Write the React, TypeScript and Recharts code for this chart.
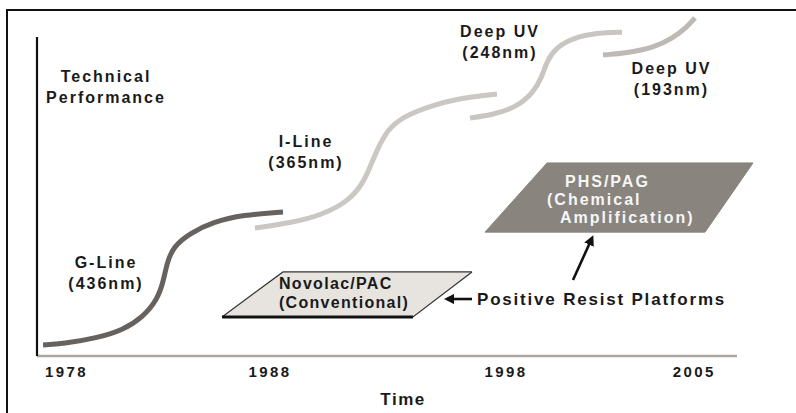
import { ComposedChart, Line, Area, XAxis, YAxis, ReferenceLine, ReferenceDot } from "recharts";

// x runs 0..110 "time units" across the plot, y 0..100 "performance units"
const tickPos = [4.2, 33.3, 67, 93.9];
const tickYears = ["1978", "1988", "1998", "2005"];

const gLineX = [0.86, 3.71, 8.57, 12.29, 15.14, 17.14, 18.0, 18.57, 19.43, 21.86, 25.14, 29.43, 35.14];
const gLineY = [3.2, 3.5, 5.2, 7.5, 11.3, 16.2, 21.1, 26.9, 31.5, 35.5, 38.7, 40.8, 41.6];

const iLineX = [31.14, 36.14, 40.86, 44.71, 46.57, 47.57, 48.57, 50.0, 52.29, 55.71, 60.43, 65.71];
const iLineY = [37.0, 38.4, 40.8, 45.1, 50.0, 54.6, 59.5, 65.3, 69.1, 72.0, 74.6, 75.7];

const duv248X = [61.86, 65.14, 68.57, 70.86, 72.14, 72.86, 74.29, 76.57, 80.0, 83.57];
const duv248Y = [68.8, 69.7, 72.0, 76.0, 80.6, 85.5, 89.3, 91.9, 93.4, 93.6];

const duv193X = [80.86, 84.29, 88.0, 90.86, 92.86, 94.0];
const duv193Y = [87.0, 87.6, 89.0, 91.9, 95.1, 97.7];

// platform boxes: corners bottom-left, top-left, bottom-right, top-right
const novolacX = [26.43, 35.14, 53.71, 62.14];
const novolacLow = [11.3, 11.3, 11.3, 24.3];
const novolacHigh = [11.3, 24.3, 24.3, 24.3];

const phsX = [64.0, 72.86, 95.43, 102.29];
const phsLow = [35.8, 35.8, 35.8, 55.8];
const phsHigh = [35.8, 55.8, 55.8, 55.8];

const noteLines = [
  ["Technical", "Performance"],
  ["G-Line", "(436nm)"],
  ["I-Line", "(365nm)"],
  ["Deep UV", "(248nm)"],
  ["Deep UV", "(193nm)"],
];
const noteX = [9.86, 9.86, 38.43, 66.14, 90.64];
const noteY = [77.7, 24.1, 59.0, 90.75, 80.06];

const novolacText = ["Novolac/PAC", "(Conventional)"];
const phsText = ["PHS/PAG", "(Chemical", "Amplification)"];
const phsTextX = [75.43, 72.86, 74.71];
const phsTextY = [50.3, 45.1, 39.9];

const toPoints = (xs: number[], ys: number[]) => xs.map((x, i) => ({ x, y: ys[i] }));
const toRange = (xs: number[], lo: number[], hi: number[]) => xs.map((x, i) => ({ x, r: [lo[i], hi[i]] }));

const FONT = "'Liberation Sans', Arial, Helvetica, sans-serif";
const INK = "#1a1a1a";

function textLabel(lines: string[], opts: { anchor?: string; gap?: number; size?: number; spacing?: number; color?: string }) {
  const { anchor = "middle", gap = 21, size = 16, spacing = 2, color = INK } = opts;
  return (props: any) => {
    const vb = props.viewBox || {};
    const cx = vb.x + (vb.width || 0) / 2;
    const cy = vb.y + (vb.height || 0) / 2;
    const first = cy - ((lines.length - 1) * gap) / 2;
    return (
      <text
        textAnchor={anchor}
        fontFamily={FONT}
        fontWeight={700}
        fontSize={size}
        fill={color}
        style={{ letterSpacing: `${spacing}px` }}
      >
        {lines.map((t, i) => (
          <tspan key={i} x={cx} y={first + i * gap} dominantBaseline="central">
            {t}
          </tspan>
        ))}
      </text>
    );
  };
}

const YearTick = (p: any) => {
  const idx = tickPos.indexOf(p.payload.value);
  return (
    <text
      x={p.x}
      y={p.y + 7}
      textAnchor="middle"
      dominantBaseline="central"
      fontFamily={FONT}
      fontWeight={700}
      fontSize={15}
      fill={INK}
      style={{ letterSpacing: "2.4px" }}
    >
      {tickYears[idx]}
    </text>
  );
};

const arrowShape = (p: any) => (
  <line x1={p.x1} y1={p.y1} x2={p.x2} y2={p.y2} stroke="#111" strokeWidth={2.6} markerEnd="url(#arrowHead)" />
);

export default function App() {
  return (
    <div style={{ position: "absolute", left: 0, top: 0, width: 796, height: 413, overflow: "hidden", background: "#fff" }}>
      <div
        style={{
          position: "absolute",
          left: 6,
          top: 9,
          width: 820,
          height: 430,
          borderLeft: "2px solid #111",
          borderTop: "2px solid #111",
        }}
      />
      <div style={{ position: "absolute", left: 0, top: 0 }}>
        <ComposedChart width={807} height={413} margin={{ top: 10, right: 0, bottom: 27, left: 37 }}>
          <defs>
            <marker id="arrowHead" viewBox="0 0 10 10" refX="7" refY="5" markerWidth="4" markerHeight="4" orient="auto">
              <path d="M0,0 L10,5 L0,10 z" fill="#111" />
            </marker>
          </defs>
          <XAxis
            type="number"
            dataKey="x"
            domain={[0, 110]}
            ticks={tickPos}
            interval={0}
            axisLine={false}
            tickLine={false}
            height={30}
            tick={<YearTick />}
          />
          <YAxis type="number" domain={[0, 100]} hide />

          <ReferenceLine segment={[{ x: 0, y: 0 }, { x: 100, y: 0 }]} stroke="#aaa6a2" strokeWidth={2.5} />
          <ReferenceLine segment={[{ x: 0, y: 0 }, { x: 0, y: 92.2 }]} stroke="#111" strokeWidth={2.2} />

          <Area
            data={toRange(novolacX, novolacLow, novolacHigh)}
            dataKey="r"
            type="linear"
            fill="#e7e4e0"
            fillOpacity={1}
            stroke="#333"
            strokeWidth={1.2}
            isAnimationActive={false}
          />
          <ReferenceLine segment={[{ x: novolacX[0], y: novolacLow[0] }, { x: novolacX[2], y: novolacLow[2] }]} stroke="#111" strokeWidth={3} />
          <Area
            data={toRange(phsX, phsLow, phsHigh)}
            dataKey="r"
            type="linear"
            fill="#8a847e"
            fillOpacity={1}
            stroke="#8a847e"
            strokeWidth={1}
            isAnimationActive={false}
          />

          <Line data={toPoints(gLineX, gLineY)} dataKey="y" type="basis" stroke="#67625d" strokeWidth={5} dot={false} isAnimationActive={false} />
          <Line data={toPoints(iLineX, iLineY)} dataKey="y" type="basis" stroke="#cbc7c2" strokeWidth={5} dot={false} isAnimationActive={false} />
          <Line data={toPoints(duv248X, duv248Y)} dataKey="y" type="basis" stroke="#c9c5c0" strokeWidth={5} dot={false} isAnimationActive={false} />
          <Line data={toPoints(duv193X, duv193Y)} dataKey="y" type="basis" stroke="#beb9b4" strokeWidth={5} dot={false} isAnimationActive={false} />

          {noteLines.map((lines, i) => (
            <ReferenceDot key={"n" + i} x={noteX[i]} y={noteY[i]} r={1} fill="none" stroke="none" ifOverflow="visible" label={textLabel(lines, {})} />
          ))}
          <ReferenceDot x={34.57} y={18.35} r={1} fill="none" stroke="none" ifOverflow="visible" label={textLabel(novolacText, { anchor: "start", gap: 19, spacing: 1.3 })} />
          {phsText.map((t, i) => (
            <ReferenceDot key={"p" + i} x={phsTextX[i]} y={phsTextY[i]} r={1} fill="none" stroke="none" ifOverflow="visible" label={textLabel([t], { anchor: "start", color: "#f6f6f6" })} />
          ))}
          <ReferenceDot x={62.86} y={16.47} r={1} fill="none" stroke="none" ifOverflow="visible" label={textLabel(["Positive Resist Platforms"], { anchor: "start", size: 17, spacing: 1.8 })} />
          <ReferenceDot x={52.29} y={-12.7} r={1} fill="none" stroke="none" ifOverflow="visible" label={textLabel(["Time"], { size: 17, spacing: 1.5 })} />

          <ReferenceLine segment={[{ x: 62.14, y: 16.47 }, { x: 58.57, y: 16.47 }]} shape={arrowShape} />
          <ReferenceLine segment={[{ x: 76.57, y: 21.97 }, { x: 79.29, y: 34.1 }]} shape={arrowShape} />
        </ComposedChart>
      </div>
    </div>
  );
}
